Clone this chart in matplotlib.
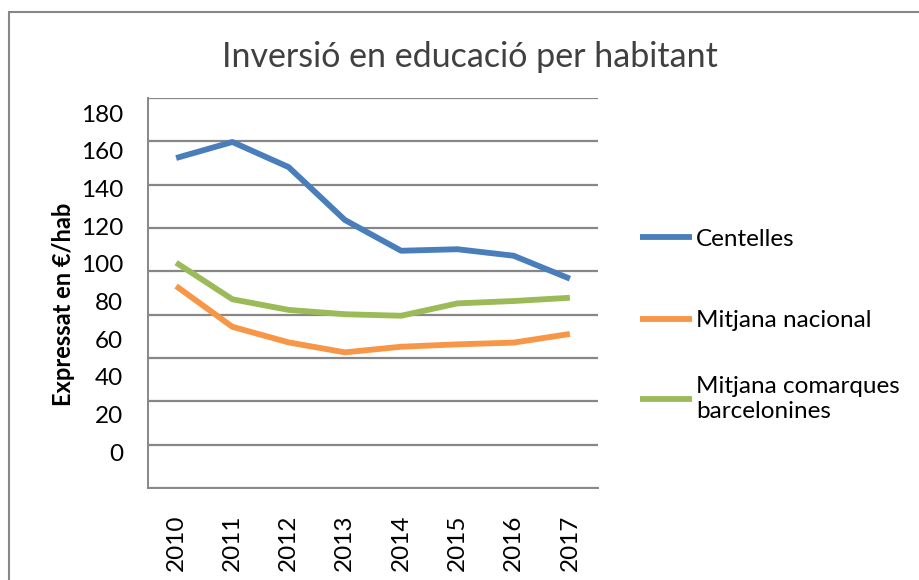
import matplotlib
matplotlib.use('Agg')
import matplotlib.pyplot as plt
from matplotlib.patches import Rectangle

plt.rcParams['font.family'] = ['Lato', 'DejaVu Sans']

years = ['2010', '2011', '2012', '2013', '2014', '2015', '2016', '2017']
centelles = [152.3, 159.7, 148.1, 123.7, 109.5, 110.2, 107.2, 96.6]
nacional = [93.2, 74.4, 67.2, 62.6, 65.2, 66.3, 67.1, 71.1]
comarques = [104.0, 87.1, 82.2, 80.2, 79.5, 85.2, 86.3, 87.8]
series_names = ['Centelles', 'Mitjana nacional', 'Mitjana comarques\nbarcelonines']
y_ticks = [0, 20, 40, 60, 80, 100, 120, 140, 160, 180]

colors = ['#4A7EBB', '#F79646', '#9BBB59']
grid_col = '#878787'

fig = plt.figure(figsize=(9.2, 5.8), dpi=100)
ax = fig.add_axes([148 / 920, 92 / 580, 450 / 920, 390 / 580])

x = range(len(years))
lines = []
for vals, c, name in zip([centelles, nacional, comarques], colors, series_names):
    ln, = ax.plot(x, vals, color=c, lw=4.2, label=name, solid_capstyle='butt', zorder=3)
    lines.append(ln)

ax.set_xlim(-0.5, len(years) - 0.5)
ax.set_ylim(0, 180)
ax.set_yticks(y_ticks)
ax.set_yticklabels([])
ax.yaxis.grid(True, color=grid_col, lw=1.6)
ax.set_axisbelow(True)
ax.tick_params(axis='both', length=0)
ax.set_xticks(list(x))
ax.set_xticklabels(years, rotation=90, fontsize=17.5)
ax.tick_params(axis='x', pad=19)
for s in ['top', 'right']:
    ax.spines[s].set_visible(False)
for s in ['left', 'bottom']:
    ax.spines[s].set_color(grid_col)
    ax.spines[s].set_linewidth(1.4)

# value labels are drawn a bit squeezed, like in the original sheet
ax2 = ax.twinx()
ax2.set_ylim(-19.1, 188.0)
ax2.yaxis.tick_left()
ax2.set_yticks(y_ticks)
ax2.set_yticklabels([str(v) for v in y_ticks], fontsize=17.5)
ax2.tick_params(axis='y', length=0, pad=18)
for s in ax2.spines.values():
    s.set_visible(False)

fig.text(470 / 920, 1 - 57 / 580, 'Inversió en educació per habitant',
         ha='center', va='center', fontsize=24.5, color='#404040')
fig.text(64 / 920, 1 - 304 / 580, 'Expressat en €/hab', rotation=90,
         ha='center', va='center', fontsize=17, fontweight='bold')

leg_kw = dict(loc='center left', bbox_transform=fig.transFigure, frameon=False,
              fontsize=17.5, handlelength=2.15, handletextpad=0.15)
leg1 = ax.legend(handles=lines[:2], bbox_to_anchor=(618 / 920, 1 - 280 / 580),
                 labelspacing=2.47, **leg_kw)
ax.add_artist(leg1)
ax.legend(handles=lines[2:], bbox_to_anchor=(618 / 920, 1 - 399 / 580), **leg_kw)

fig.patches.append(Rectangle((9 / 920, -0.1), 1.0, 1 - 12 / 580 + 0.1,
                             transform=fig.transFigure, fill=False,
                             edgecolor=grid_col, lw=1.5))

fig.savefig('out.png', dpi=100)
